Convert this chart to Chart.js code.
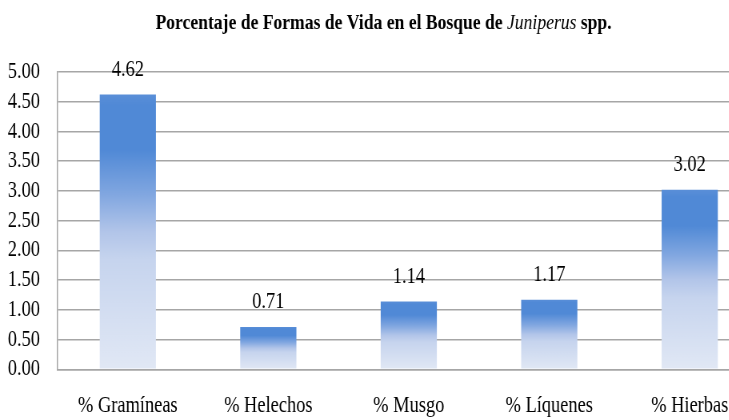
<!DOCTYPE html>
<html>
<head>
<meta charset="utf-8">
<script src="https://cdn.jsdelivr.net/npm/chart.js@4/dist/chart.umd.min.js"></script>
<style>
  html, body { margin: 0; padding: 0; background: #fff; overflow: hidden; width: 729px; height: 420px; }
  #wrap { position: absolute; left: 0; top: 0; width: 959px; height: 420px; transform: scaleX(0.8); transform-origin: 0 0; }
</style>
</head>
<body>
<div id="wrap"><canvas id="c" width="959" height="420"></canvas></div>
<script>
// ---- data ----
const categories = ["% Gramíneas", "% Helechos", "% Musgo", "% Líquenes", "% Hierbas"];
const values = [4.62, 0.71, 1.14, 1.17, 3.02];
const yTicks = [0, 0.5, 1, 1.5, 2, 2.5, 3, 3.5, 4, 4.5, 5];
const titleParts = [
  { text: "Porcentaje de Formas de Vida en el Bosque de ", style: "bold" },
  { text: "Juniperus", style: "italic" },
  { text: " spp.", style: "bold" }
];

const FONT = "'Liberation Serif', 'Times New Roman', serif";

function barGradient(ctx) {
  const chart = ctx.chart;
  if (!chart.chartArea || ctx.type !== 'data' || !ctx.parsed) return '#5089d6';
  const ys = chart.scales.y;
  const top = ys.getPixelForValue(ctx.parsed.y);
  const base = ys.getPixelForValue(0);
  const g = chart.ctx.createLinearGradient(0, top, 0, base);
  g.addColorStop(0, '#5a8fd8');
  g.addColorStop(0.04, '#5089d6');
  g.addColorStop(0.2, '#5089d6');
  g.addColorStop(0.36, '#80a6e0');
  g.addColorStop(0.5, '#b2c5e9');
  g.addColorStop(0.6, '#c6d4ee');
  g.addColorStop(1, '#e1e8f5');
  return g;
}

const titlePlugin = {
  id: 'mixedTitle',
  afterDraw(chart) {
    const c = chart.ctx;
    c.save();
    const fonts = {
      bold: "bold 22px " + FONT,
      italic: "italic 22px " + FONT
    };
    let total = 0;
    const widths = titleParts.map(p => { c.font = fonts[p.style]; const w = c.measureText(p.text).width; total += w; return w; });
    let x = chart.width / 2 - total / 2;
    c.fillStyle = '#000';
    c.textBaseline = 'alphabetic';
    c.textAlign = 'left';
    titleParts.forEach((p, i) => { c.font = fonts[p.style]; c.fillText(p.text, x, 28.5); x += widths[i]; });
    c.restore();
  }
};

const valueLabels = {
  id: 'valueLabels',
  afterDatasetsDraw(chart) {
    const c = chart.ctx;
    const meta = chart.getDatasetMeta(0);
    c.save();
    c.font = "23px " + FONT;
    c.fillStyle = '#000';
    c.textAlign = 'center';
    c.textBaseline = 'alphabetic';
    meta.data.forEach((el, i) => {
      c.fillText(values[i].toFixed(2), el.x, el.y - 19);
    });
    c.restore();
  }
};

new Chart(document.getElementById('c'), {
  type: 'bar',
  data: {
    labels: categories,
    datasets: [{
      data: values,
      backgroundColor: barGradient,
      borderWidth: 0,
      categoryPercentage: 1,
      barPercentage: 0.4
    }]
  },
  options: {
    responsive: false,
    animation: false,
    devicePixelRatio: 1,
    layout: { padding: { top: 72, left: 10, right: 9, bottom: 1 } },
    plugins: { legend: { display: false }, title: { display: false }, tooltip: { enabled: false } },
    scales: {
      x: {
        afterFit(scale) { scale.height = 49.7; },
        grid: { display: false, drawTicks: false },
        border: { display: true, color: '#a6a6a6', width: 1.5 },
        ticks: { color: '#000', padding: 24, font: { family: FONT, size: 23, lineHeight: 1.1 }, maxRotation: 0, autoSkip: false }
      },
      y: {
        min: 0, max: 5,
        afterFit(scale) { scale.width = 62; },
        afterBuildTicks(scale) { scale.ticks = yTicks.map(v => ({ value: v })); },
        grid: { color: '#a6a6a6', lineWidth: 1.5, drawTicks: false },
        border: { display: true, color: '#a6a6a6', width: 1.5 },
        ticks: { color: '#000', padding: 22, stepSize: 0.5, autoSkip: false, font: { family: FONT, size: 23 }, callback: v => Number(v).toFixed(2) }
      }
    }
  },
  plugins: [titlePlugin, valueLabels]
});
</script>
</body>
</html>
